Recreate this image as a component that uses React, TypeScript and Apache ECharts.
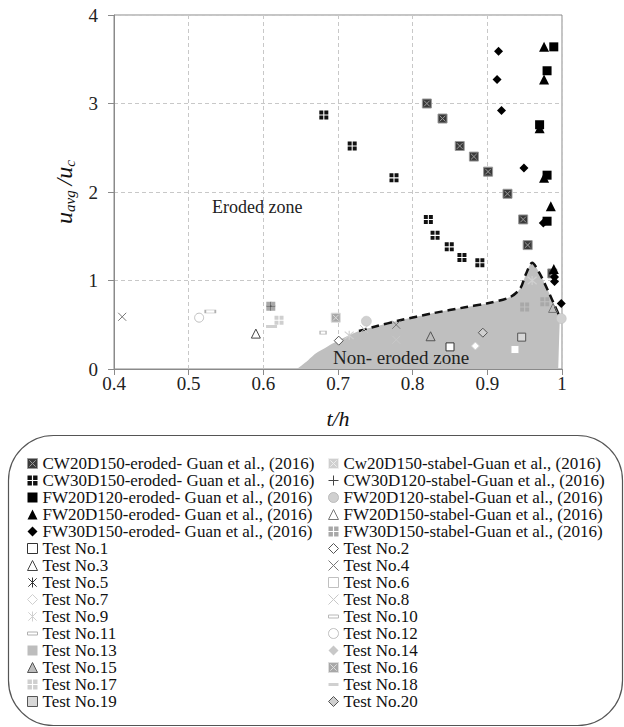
import React, { useEffect, useRef } from "react";
import * as echarts from "echarts";

const SERIF = "Liberation Serif, serif";

// ---- axis ticks ----
const xTicks = [0.4, 0.5, 0.6, 0.7, 0.8, 0.9, 1];
const yTicks = [0, 1, 2, 3, 4];

// ---- boundary between eroded / non-eroded zone ----
const boundaryLine = [
  [0.728, 0.43], [0.75, 0.48], [0.783, 0.55], [0.827, 0.63], [0.872, 0.7], [0.899, 0.74],
  [0.93, 0.81], [0.944, 0.91], [0.952, 1.08], [0.96, 1.2], [0.97, 1.08], [0.981, 0.89],
  [0.99, 0.72], [0.997, 0.59],
];
const nonErodedArea = [
  [0.645, 0], [0.66, 0.1], [0.671, 0.18], [0.685, 0.25], [0.698, 0.31], [0.712, 0.37], [0.728, 0.43],
  [0.75, 0.48], [0.783, 0.55], [0.827, 0.63], [0.872, 0.7], [0.899, 0.74],
  [0.93, 0.81], [0.944, 0.91], [0.952, 1.08], [0.96, 1.2], [0.97, 1.08], [0.981, 0.89],
  [0.99, 0.72], [0.997, 0.59], [0.996, 0.3], [0.995, 0],
];

// ---- Guan et al. (2016) ----
const cw20d150Eroded = [[0.819, 3.0], [0.84, 2.83], [0.863, 2.52], [0.882, 2.4], [0.901, 2.23], [0.927, 1.98], [0.948, 1.69], [0.954, 1.4], [0.987, 1.08]];
const cw30d150Eroded = [[0.681, 2.87], [0.719, 2.52], [0.775, 2.16], [0.821, 1.69], [0.83, 1.51], [0.849, 1.38], [0.866, 1.26], [0.89, 1.2]];
const fw20d120Eroded = [[0.989, 3.64], [0.98, 3.37], [0.97, 2.76], [0.98, 2.19], [0.98, 1.67]];
const fw20d150Eroded = [[0.976, 3.64], [0.976, 3.27], [0.97, 2.72], [0.976, 2.16], [0.985, 1.84], [0.989, 1.13]];
const fw30d150Eroded = [[0.915, 3.59], [0.913, 3.27], [0.919, 2.92], [0.949, 2.27], [0.975, 1.65], [0.99, 1.04], [0.99, 0.99], [0.999, 0.74]];
const cw20d150Stable: number[][] = [];
const cw30d120Stable = [[0.61, 0.71]];
const fw20d120Stable = [[0.738, 0.54], [0.999, 0.57]];
const fw20d150Stable = [[0.988, 0.69]];
const fw30d150Stable = [[0.61, 0.71], [0.977, 0.76], [0.95, 0.7]];

// ---- tests ----
const test1 = [[0.85, 0.25]];
const test2 = [[0.701, 0.32]];
const test3 = [[0.59, 0.4]];
const test4 = [[0.411, 0.59], [0.778, 0.5]];
const test5 = [[0.697, 0.58]];
const test6 = [[0.937, 0.22]];
const test7 = [[0.884, 0.26]];
const test8 = [[0.735, 0.45], [0.778, 0.33]];
const test9 = [[0.715, 0.38], [0.96, 1.0]];
const test10 = [[0.68, 0.41]];
const test11 = [[0.529, 0.65]];
const test12 = [[0.514, 0.58]];
const test13: number[][] = [];
const test14: number[][] = [];
const test15 = [[0.824, 0.37]];
const test16 = [[0.697, 0.58]];
const test17 = [[0.621, 0.55]];
const test18 = [[0.611, 0.48]];
const test19 = [[0.946, 0.36]];
const test20 = [[0.894, 0.41]];

// ---- marker shapes ----
const XSQ = "path://M0,0H10V10H0Z M1.8,1.8L8.2,8.2 M8.2,1.8L1.8,8.2";
const QSQ = "path://M0,0H4.4V4.4H0Z M5.6,0H10V4.4H5.6Z M0,5.6H4.4V10H0Z M5.6,5.6H10V10H5.6Z";
const PLUS = "path://M5,0V10M0,5H10";
const XMARK = "path://M0,0L10,10M10,0L0,10";
const STAR = "path://M0,0L10,10M10,0L0,10M5,-1V11";
const DASH = "path://M0,0H10V3H0Z";
const T = "transparent";

type Spec = { name: string; data: number[][]; symbol: string; size: number | number[]; fill: string; stroke?: string; lw?: number };

const leftSpecs: Spec[] = [
  { name: "CW20D150-eroded- Guan et al., (2016)", data: cw20d150Eroded, symbol: XSQ, size: 9, fill: "#3a3a3a", stroke: "#9a9a9a", lw: 1 },
  { name: "CW30D150-eroded- Guan et al., (2016)", data: cw30d150Eroded, symbol: QSQ, size: 9, fill: "#111" },
  { name: "FW20D120-eroded- Guan et al., (2016)", data: fw20d120Eroded, symbol: "rect", size: 9, fill: "#000" },
  { name: "FW20D150-eroded- Guan et al., (2016)", data: fw20d150Eroded, symbol: "triangle", size: 10, fill: "#000" },
  { name: "FW30D150-eroded- Guan et al., (2016)", data: fw30d150Eroded, symbol: "diamond", size: 9, fill: "#000" },
  { name: "Test No.1", data: test1, symbol: "rect", size: 8, fill: "#fff", stroke: "#333", lw: 1 },
  { name: "Test No.3", data: test3, symbol: "triangle", size: 9, fill: "#fff", stroke: "#444", lw: 1 },
  { name: "Test No.5", data: test5, symbol: STAR, size: 8, fill: T, stroke: "#333", lw: 1.2 },
  { name: "Test No.7", data: test7, symbol: "diamond", size: 8, fill: "#fff", stroke: "#cfcfcf", lw: 1 },
  { name: "Test No.9", data: test9, symbol: STAR, size: 9, fill: T, stroke: "#d0d0d0", lw: 1.2 },
  { name: "Test No.11", data: test11, symbol: DASH, size: [10, 3], fill: "#fff", stroke: "#b0b0b0", lw: 1 },
  { name: "Test No.13", data: test13, symbol: "rect", size: 8, fill: "#bdbdbd" },
  { name: "Test No.15", data: test15, symbol: "triangle", size: 9, fill: "#bdbdbd", stroke: "#555", lw: 1 },
  { name: "Test No.17", data: test17, symbol: QSQ, size: 9, fill: "#cfcfcf" },
  { name: "Test No.19", data: test19, symbol: "rect", size: 8, fill: "#d8d8d8", stroke: "#555", lw: 1 },
];
const rightSpecs: Spec[] = [
  { name: "Cw20D150-stabel-Guan et al., (2016)", data: cw20d150Stable, symbol: XSQ, size: 9, fill: "#cfcfcf", stroke: "#eeeeee", lw: 1 },
  { name: "CW30D120-stabel-Guan et al., (2016)", data: cw30d120Stable, symbol: PLUS, size: 9, fill: T, stroke: "#444", lw: 1.2 },
  { name: "FW20D120-stabel-Guan et al., (2016)", data: fw20d120Stable, symbol: "circle", size: 10, fill: "#d0d0d0", stroke: "#bbb", lw: 0.5 },
  { name: "FW20D150-stabel-Guan et al., (2016)", data: fw20d150Stable, symbol: "triangle", size: 9, fill: T, stroke: "#777", lw: 1 },
  { name: "FW30D150-stabel-Guan et al., (2016)", data: fw30d150Stable, symbol: QSQ, size: 9, fill: "#a8a8a8" },
  { name: "Test No.2", data: test2, symbol: "diamond", size: 9, fill: "#fff", stroke: "#555", lw: 1 },
  { name: "Test No.4", data: test4, symbol: XMARK, size: 8, fill: T, stroke: "#777", lw: 1 },
  { name: "Test No.6", data: test6, symbol: "rect", size: 8, fill: "#fff", stroke: "#c0c0c0", lw: 1 },
  { name: "Test No.8", data: test8, symbol: XMARK, size: 8, fill: T, stroke: "#c8c8c8", lw: 1 },
  { name: "Test No.10", data: test10, symbol: DASH, size: [6, 3], fill: "#fff", stroke: "#b8b8b8", lw: 1 },
  { name: "Test No.12", data: test12, symbol: "circle", size: 9, fill: "#fff", stroke: "#c0c0c0", lw: 1 },
  { name: "Test No.14", data: test14, symbol: "diamond", size: 8, fill: "#c8c8c8" },
  { name: "Test No.16", data: test16, symbol: XSQ, size: 9, fill: "#a8a8a8", stroke: "#dddddd", lw: 1 },
  { name: "Test No.18", data: test18, symbol: DASH, size: [11, 3], fill: "#d0d0d0" },
  { name: "Test No.20", data: test20, symbol: "diamond", size: 9, fill: "#d0d0d0", stroke: "#555", lw: 1 },
];

function buildOption() {
  const scatter = [...leftSpecs, ...rightSpecs].map((s) => ({
    type: "scatter",
    name: s.name,
    data: s.data,
    symbol: s.symbol,
    symbolSize: s.size,
    z: 5,
    itemStyle: {
      color: s.fill,
      borderColor: s.stroke || "transparent",
      borderWidth: s.stroke ? s.lw : 0,
      opacity: 1,
    },
    emphasis: { disabled: true },
  }));

  const legendCommon = {
    orient: "vertical",
    top: 455,
    padding: 0,
    itemGap: 0,
    itemWidth: 10,
    itemHeight: 10,
    selectedMode: false,
    itemStyle: { borderWidth: 1 },
    textStyle: { fontFamily: SERIF, fontSize: 17, color: "#111", lineHeight: 17, padding: [0, 0, 0, 0] },
  };

  return {
    animation: false,
    backgroundColor: "#fff",
    textStyle: { fontFamily: SERIF },
    grid: { left: 114, top: 15, right: 62, bottom: 358, show: true, borderColor: "#8a8a8a", borderWidth: 1, outerBoundsMode: "none" },
    xAxis: {
      type: "value",
      min: xTicks[0],
      max: xTicks[xTicks.length - 1],
      interval: 0.1,
      name: "t/h",
      nameLocation: "middle",
      nameGap: 38,
      nameTextStyle: { fontFamily: SERIF, fontStyle: "italic", fontSize: 22, color: "#111" },
      axisLine: { show: true, lineStyle: { color: "#8a8a8a", width: 1 } },
      axisTick: { show: true, length: 6, lineStyle: { color: "#8a8a8a" } },
      axisLabel: {
        fontFamily: SERIF, fontSize: 19, color: "#222", margin: 5,
        formatter: (v: number) => {
          const r = Math.round(v * 10) / 10;
          return xTicks.includes(r) ? String(r) : "";
        },
      },
      splitLine: { show: true, lineStyle: { color: "#c8c8c8", type: [4, 3], width: 1 } },
    },
    yAxis: {
      type: "value",
      min: yTicks[0],
      max: yTicks[yTicks.length - 1],
      interval: 1,
      name: "{i|u}{s|avg}{i|\u2009/u}{s|c}",
      nameLocation: "middle",
      nameGap: 32,
      nameTextStyle: {
        rich: {
          i: { fontFamily: SERIF, fontStyle: "italic", fontSize: 24, color: "#111", lineHeight: 28 },
          s: { fontFamily: SERIF, fontStyle: "italic", fontSize: 15, color: "#111", verticalAlign: "bottom", lineHeight: 15 },
        },
      },
      axisLine: { show: true, lineStyle: { color: "#8a8a8a", width: 1 } },
      axisTick: { show: true, length: 6, lineStyle: { color: "#8a8a8a" } },
      axisLabel: { fontFamily: SERIF, fontSize: 19, color: "#222", margin: 16 },
      splitLine: { show: true, lineStyle: { color: "#c8c8c8", type: [4, 3], width: 1 } },
    },
    legend: [
      { ...legendCommon, left: 27, data: leftSpecs.map((s) => s.name) },
      { ...legendCommon, left: 328, data: rightSpecs.map((s) => s.name) },
    ],
    graphic: [
      {
        type: "rect",
        shape: { x: 8.5, y: 435.5, width: 614, height: 290, r: 45 },
        style: { fill: "none", stroke: "#555", lineWidth: 1.2 },
        z: 1,
      },
      {
        type: "text",
        x: 212,
        y: 207,
        z: 100,
        style: { text: "Eroded zone", fontFamily: SERIF, fontSize: 18, fill: "#222", verticalAlign: "middle" },
      },
      {
        type: "text",
        x: 333,
        y: 357,
        z: 100,
        style: { text: "Non- eroded zone", fontFamily: SERIF, fontSize: 19, fill: "#222", verticalAlign: "middle" },
      },
    ],
    series: [
      {
        type: "line",
        name: "area",
        data: nonErodedArea,
        smooth: 0.3,
        showSymbol: false,
        symbol: "none",
        lineStyle: { width: 0, color: "#bfbfbf" },
        areaStyle: { color: "#bfbfbf", opacity: 1 },
        z: 1,
        silent: true,
      },
      {
        type: "line",
        name: "boundary",
        data: boundaryLine,
        smooth: 0.3,
        showSymbol: false,
        symbol: "none",
        lineStyle: { width: 2.5, color: "#111", type: [8, 5] },
        z: 3,
        silent: true,
      },
      ...scatter,
    ],
  };
}

export default function App() {
  const ref = useRef<HTMLDivElement>(null);
  useEffect(() => {
    if (!ref.current) return;
    const chart = echarts.init(ref.current, null, { renderer: "svg" });
    chart.setOption(buildOption() as any);
    return () => chart.dispose();
  }, []);
  return <div ref={ref} style={{ position: "absolute", left: 0, top: 0, width: 624, height: 727, background: "#fff" }} />;
}
